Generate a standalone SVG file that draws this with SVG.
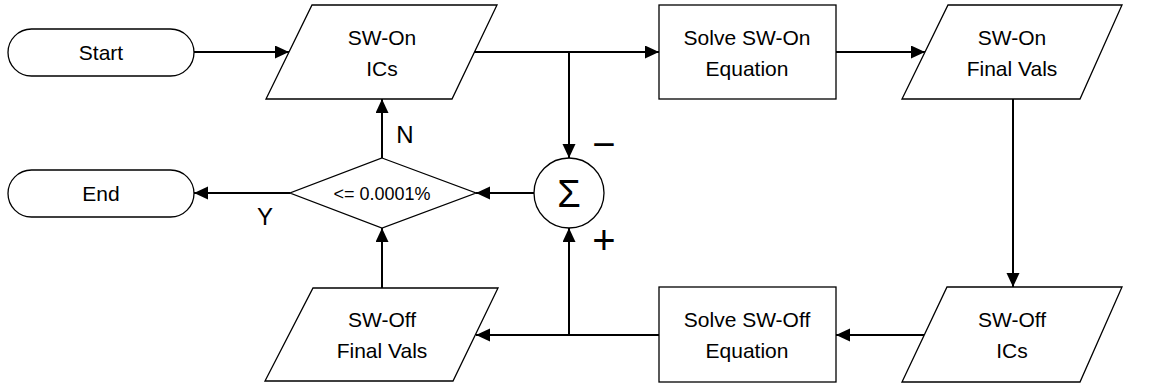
<svg xmlns="http://www.w3.org/2000/svg" width="1152" height="385" viewBox="0 0 1152 385">
<style>
.s{fill:#fff;stroke:#000;stroke-width:1.3}
.c{fill:none;stroke:#000;stroke-width:2;marker-end:url(#ah)}
text{font-family:"Liberation Sans",Arial,sans-serif;font-size:21px;fill:#000;text-anchor:middle}
.sm{font-size:18px}
.lb{font-size:24px}
</style>
<defs>
<marker id="ah" markerUnits="userSpaceOnUse" markerWidth="16" markerHeight="14" refX="14" refY="6.5" orient="auto">
<path d="M0,0 L14,6.5 L0,13 z" fill="#000"/>
</marker>
</defs>
<rect width="1152" height="385" fill="#fff"/>
<g id="connectors">
<path class="c" d="M194,52 H289"/>
<path class="c" d="M474,52 H659"/>
<path class="c" d="M569,52 V158"/>
<path class="c" d="M836,52 H925"/>
<path class="c" d="M1013,99 V287"/>
<path class="c" d="M924,335 H836"/>
<path class="c" d="M659,335 H476"/>
<path class="c" d="M569,335 V228"/>
<path class="c" d="M382,288 V228"/>
<path class="c" d="M534,193 H476"/>
<path class="c" d="M290,193 H194"/>
<path class="c" d="M382,158 V99"/>
</g>
<g id="start">
<rect class="s" x="8" y="29" width="186" height="47" rx="23.5"/>
<text x="101" y="60">Start</text>
</g>
<g id="end">
<rect class="s" x="8" y="170" width="186" height="47" rx="23.5"/>
<text x="101" y="201">End</text>
</g>
<g id="swon-ics">
<path class="s" d="M312,5 H497 L452,99 H266 Z"/>
<text x="382" y="45">SW-On</text>
<text x="382" y="76">ICs</text>
</g>
<g id="solve-on">
<rect class="s" x="659" y="5" width="177" height="94"/>
<text x="747" y="45">Solve SW-On</text>
<text x="747" y="76">Equation</text>
</g>
<g id="swon-final">
<path class="s" d="M948,5 H1122 L1080,99 H902 Z"/>
<text x="1012" y="45">SW-On</text>
<text x="1012" y="76">Final Vals</text>
</g>
<g id="swoff-ics">
<path class="s" d="M947,287 H1122 L1080,382 H902 Z"/>
<text x="1012" y="327">SW-Off</text>
<text x="1012" y="358">ICs</text>
</g>
<g id="solve-off">
<rect class="s" x="659" y="287" width="177" height="95"/>
<text x="747" y="327">Solve SW-Off</text>
<text x="747" y="358">Equation</text>
</g>
<g id="swoff-final">
<path class="s" d="M313,288 H498 L453,381 H265 Z"/>
<text x="382" y="327">SW-Off</text>
<text x="382" y="358">Final Vals</text>
</g>
<g id="decision">
<path class="s" d="M382,158 L476,193 L382,228 L290,193 Z"/>
<text class="sm" x="382" y="200">&lt;= 0.0001%</text>
<text class="lb" x="405" y="143">N</text>
<text class="lb" x="265" y="225">Y</text>
</g>
<g id="sum">
<circle class="s" cx="569" cy="193" r="35"/>
<text x="569" y="207" style="font-size:38px">Σ</text>
<text x="604" y="158" style="font-size:40px">−</text>
<text x="604" y="254" style="font-size:40px">+</text>
</g>
</svg>
